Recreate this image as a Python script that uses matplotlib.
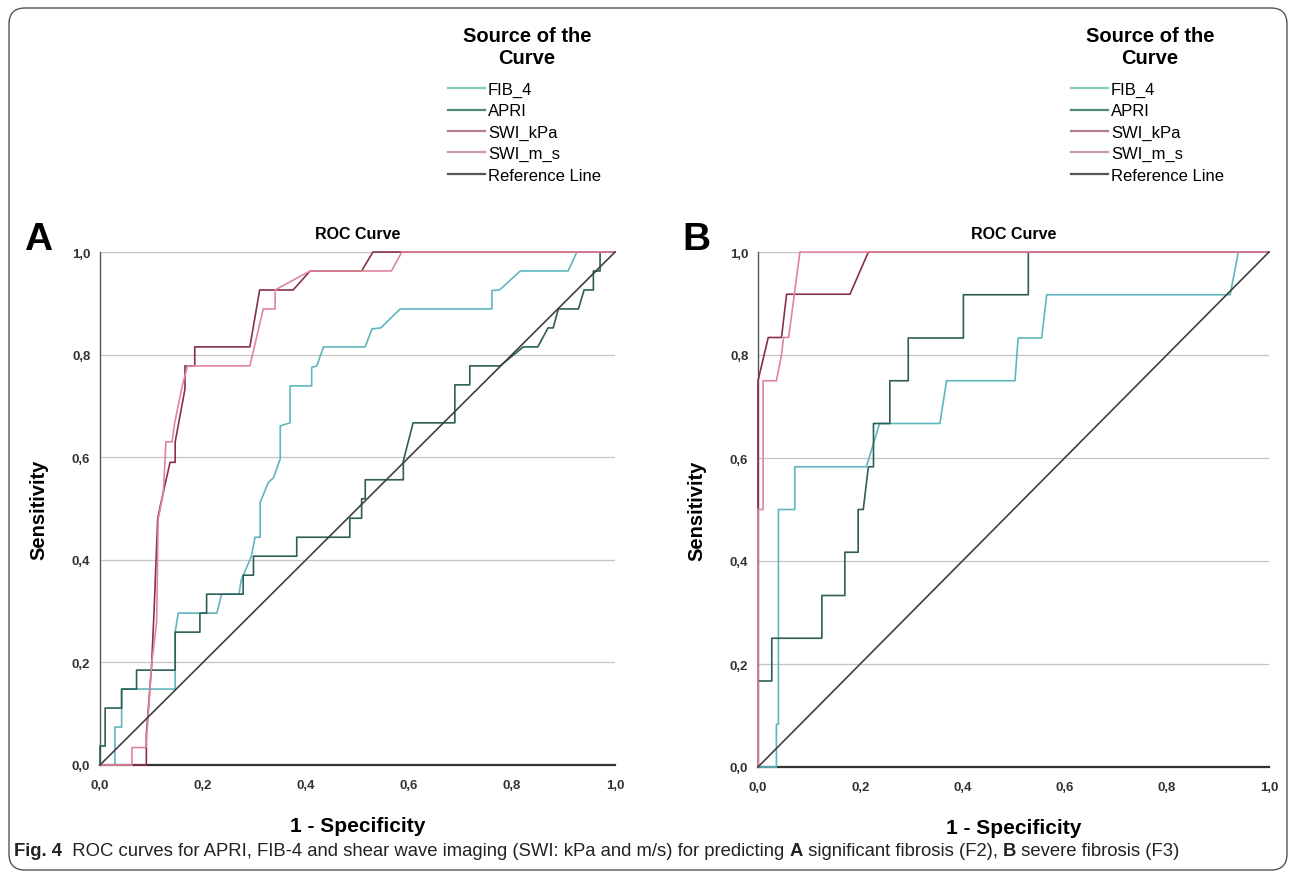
import matplotlib
matplotlib.use('Agg')
import matplotlib.pyplot as plt
from matplotlib import font_manager
from matplotlib.lines import Line2D
from matplotlib.patches import FancyBboxPatch

# ---- data ----
series_names = ['FIB_4', 'APRI', 'SWI_kPa', 'SWI_m_s', 'Reference Line']
tick_values = [0.0, 0.2, 0.4, 0.6, 0.8, 1.0]
tick_labels = ['0,0', '0,2', '0,4', '0,6', '0,8', '1,0']

# panel A: significant fibrosis (F2)
a_fib4_fpr = [0, 0.029, 0.029, 0.042, 0.042, 0.146, 0.146, 0.152, 0.227, 0.236, 0.27, 0.274, 0.294,
              0.301, 0.311, 0.311, 0.327, 0.337, 0.35, 0.35, 0.369, 0.369, 0.411, 0.411, 0.421, 0.434,
              0.515, 0.528, 0.545, 0.583, 0.761, 0.761, 0.776, 0.816, 0.909, 0.926, 1.0]
a_fib4_tpr = [0, 0, 0.074, 0.074, 0.148, 0.148, 0.26, 0.296, 0.296, 0.333, 0.333, 0.36, 0.407,
              0.444, 0.444, 0.512, 0.551, 0.56, 0.597, 0.661, 0.667, 0.739, 0.739, 0.775, 0.778, 0.815,
              0.815, 0.85, 0.852, 0.889, 0.889, 0.925, 0.926, 0.963, 0.963, 1.0, 1.0]
a_apri_fpr = [0, 0, 0.01, 0.01, 0.042, 0.042, 0.071, 0.071, 0.146, 0.146, 0.194, 0.194, 0.207, 0.207,
              0.278, 0.278, 0.298, 0.298, 0.382, 0.382, 0.485, 0.485, 0.508, 0.508, 0.515, 0.515,
              0.589, 0.589, 0.608, 0.689, 0.689, 0.718, 0.718, 0.777, 0.822, 0.85, 0.87, 0.88, 0.89,
              0.929, 0.94, 0.958, 0.958, 0.971, 0.971, 1.0]
a_apri_tpr = [0, 0.037, 0.037, 0.111, 0.111, 0.148, 0.148, 0.185, 0.185, 0.259, 0.259, 0.296, 0.296,
              0.333, 0.333, 0.37, 0.37, 0.407, 0.407, 0.444, 0.444, 0.481, 0.481, 0.519, 0.519, 0.556,
              0.556, 0.593, 0.667, 0.667, 0.741, 0.741, 0.778, 0.778, 0.815, 0.815, 0.852, 0.852, 0.889,
              0.889, 0.926, 0.926, 0.963, 0.963, 1.0, 1.0]
a_kpa_fpr = [0, 0.09, 0.09, 0.10, 0.105, 0.112, 0.117, 0.136, 0.146, 0.146, 0.165, 0.165, 0.184, 0.184,
             0.291, 0.31, 0.375, 0.408, 0.508, 0.53, 1.0]
a_kpa_tpr = [0, 0, 0.06, 0.19, 0.30, 0.48, 0.505, 0.59, 0.59, 0.63, 0.733, 0.778, 0.778, 0.815,
             0.815, 0.926, 0.926, 0.963, 0.963, 1.0, 1.0]
a_ms_fpr = [0, 0.062, 0.062, 0.089, 0.094, 0.10, 0.11, 0.113, 0.123, 0.128, 0.14, 0.145, 0.16, 0.17,
            0.291, 0.317, 0.34, 0.34, 0.408, 0.566, 0.586, 1.0]
a_ms_tpr = [0, 0, 0.034, 0.034, 0.103, 0.194, 0.278, 0.48, 0.53, 0.63, 0.63, 0.667, 0.74, 0.778,
            0.778, 0.889, 0.889, 0.926, 0.963, 0.963, 1.0, 1.0]

# panel B: severe fibrosis (F3)
b_fib4_fpr = [0, 0.036, 0.036, 0.04, 0.04, 0.072, 0.072, 0.212, 0.238, 0.356, 0.369, 0.503, 0.509,
              0.555, 0.565, 0.924, 0.94, 1.0]
b_fib4_tpr = [0, 0, 0.083, 0.083, 0.5, 0.5, 0.583, 0.583, 0.667, 0.667, 0.75, 0.75, 0.833,
              0.833, 0.917, 0.917, 1.0, 1.0]
b_apri_fpr = [0, 0, 0.027, 0.027, 0.125, 0.125, 0.17, 0.17, 0.196, 0.196, 0.206, 0.216, 0.226, 0.226,
              0.258, 0.258, 0.294, 0.294, 0.402, 0.402, 0.529, 0.529, 1.0]
b_apri_tpr = [0, 0.167, 0.167, 0.25, 0.25, 0.333, 0.333, 0.417, 0.417, 0.5, 0.5, 0.583, 0.583, 0.667,
              0.667, 0.75, 0.75, 0.833, 0.833, 0.917, 0.917, 1.0, 1.0]
b_kpa_fpr = [0, 0, 0.02, 0.046, 0.056, 0.18, 0.216, 1.0]
b_kpa_tpr = [0, 0.75, 0.834, 0.834, 0.918, 0.918, 1.0, 1.0]
b_ms_fpr = [0, 0, 0.01, 0.01, 0.036, 0.046, 0.05, 0.06, 0.082, 1.0]
b_ms_tpr = [0, 0.5, 0.5, 0.75, 0.75, 0.80, 0.834, 0.834, 1.0, 1.0]

ref_fpr = [0, 1]
ref_tpr = [0, 1]

caption_parts = [('Fig. 4', 'bold'),
                 ('  ROC curves for APRI, FIB-4 and shear wave imaging (SWI: kPa and m/s) for predicting ', 'normal'),
                 ('A', 'bold'),
                 (' significant fibrosis (F2), ', 'normal'),
                 ('B', 'bold'),
                 (' severe fibrosis (F3)', 'normal')]

# ---- styling ----
colors = {'FIB_4': '#5fb7bd', 'APRI': '#2d5f55', 'SWI_kPa': '#86304a',
          'SWI_m_s': '#e0869a', 'Reference Line': '#404040'}
legend_colors = {'FIB_4': '#86c9bb', 'APRI': '#4f8a7c', 'SWI_kPa': '#b47e8c',
                 'SWI_m_s': '#c999a6', 'Reference Line': '#555555'}

installed = {f.name for f in font_manager.fontManager.ttflist}
base_font = 'Liberation Sans' if 'Liberation Sans' in installed else 'DejaVu Sans'
plt.rcParams['font.family'] = [base_font, 'DejaVu Sans']

fig = plt.figure(figsize=(12.95, 8.79), dpi=100)

panels = [
    ('A', [100, 253, 615, 766], 527, [a_fib4_fpr, a_apri_fpr, a_kpa_fpr, a_ms_fpr],
     [a_fib4_tpr, a_apri_tpr, a_kpa_tpr, a_ms_tpr]),
    ('B', [758, 253, 1269, 768], 1150, [b_fib4_fpr, b_apri_fpr, b_kpa_fpr, b_ms_fpr],
     [b_fib4_tpr, b_apri_tpr, b_kpa_tpr, b_ms_tpr]),
]

W, H = 1295, 879
for letter, (x0, y0, x1, y1), leg_cx, fprs, tprs in panels:
    ax = fig.add_axes([x0 / W, (H - y1) / H, (x1 - x0) / W, (y1 - y0) / H])
    for name, fx, ty in zip(series_names[:4], fprs, tprs):
        ax.plot(fx, ty, color=colors[name], lw=1.2, clip_on=False, zorder=3)
    ax.plot(ref_fpr, ref_tpr, color=colors['Reference Line'], lw=1.2, clip_on=False, zorder=4)

    ax.set_xlim(0, 1)
    ax.set_ylim(0, 1)
    ax.set_xticks(tick_values)
    ax.set_xticklabels(tick_labels)
    ax.set_yticks(tick_values)
    ax.set_yticklabels(tick_labels)
    ax.tick_params(length=0, labelsize=9.5, labelcolor='#333333')
    ax.tick_params(axis='x', pad=10)
    ax.tick_params(axis='y', pad=7)
    for lab in ax.get_xticklabels() + ax.get_yticklabels():
        lab.set_fontweight('bold')
    ax.grid(axis='y', color='#c4c4c4', lw=0.9)
    ax.set_axisbelow(True)
    for side in ['top', 'right']:
        ax.spines[side].set_visible(False)
    ax.spines['left'].set_color('#555555')
    ax.spines['left'].set_linewidth(1.0)
    ax.spines['bottom'].set_color('#333333')
    ax.spines['bottom'].set_linewidth(1.6)

    ax.set_title('ROC Curve', fontsize=11.5, fontweight='bold', pad=10)
    ax.set_ylabel('Sensitivity', fontsize=14.5, fontweight='bold')
    ax.yaxis.set_label_coords(-52 / (x1 - x0), 0.5)
    ax.set_xlabel('1 - Specificity', fontsize=15, fontweight='bold')
    ax.xaxis.set_label_coords(0.5, -51 / (y1 - y0))

    fig.text((x0 - 76) / W, 1 - 240 / H, letter, fontsize=28, fontweight='bold',
             ha='left', va='center')

    # legend block: title as text, entries as a real legend
    fig.text(leg_cx / W, 1 - 47 / H, 'Source of the\nCurve', fontsize=14.5, fontweight='bold',
             ha='center', va='center', multialignment='center', linespacing=1.2)
    handles = [Line2D([], [], color=legend_colors[n], lw=1.6) for n in series_names]
    fig.legend(handles, series_names, loc='upper left',
               bbox_to_anchor=((leg_cx - 79) / W, 1 - 83 / H),
               frameon=False, fontsize=12, handlelength=2.2, handletextpad=0.2,
               labelspacing=0.38, borderpad=0, borderaxespad=0)

# rounded frame around the whole figure
frame = FancyBboxPatch((0.09, 0.08), 12.78, 8.62, boxstyle='round,pad=0,rounding_size=0.16',
                       transform=fig.dpi_scale_trans, fill=False, ec='#555555', lw=1.0)
fig.add_artist(frame)

# caption with mixed weights, laid out piece by piece
fig.canvas.draw()
renderer = fig.canvas.get_renderer()
x = 14
for text, weight in caption_parts:
    t = fig.text(x / W, 1 - 852 / H, text, fontsize=13.3, fontweight=weight,
                 ha='left', va='center', color='#222222')
    x = t.get_window_extent(renderer).x1

fig.savefig('out.png', dpi=100)
